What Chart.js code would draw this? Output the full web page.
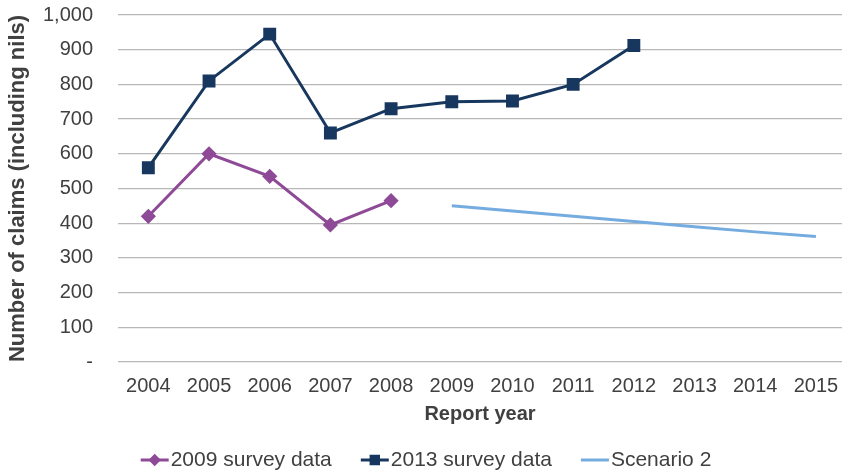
<!DOCTYPE html>
<html>
<head>
<meta charset="utf-8">
<script src="https://cdn.jsdelivr.net/npm/chart.js@4"></script>
<style>
  html, body { margin: 0; padding: 0; background: #fff; }
  #wrap { width: 842px; height: 473px; }
</style>
</head>
<body>
<div id="wrap"><canvas id="claimsChart"></canvas></div>
<script>
// Report years and claim counts
const years = [2004, 2005, 2006, 2007, 2008, 2009, 2010, 2011, 2012, 2013, 2014, 2015];
const survey2009 = [420, 600, 535, 395, 465, null, null, null, null, null, null, null];
const survey2013 = [560, 810, 945, 660, 730, 750, 752, 800, 912, null, null, null];
const scenario2 = [null, null, null, null, null, 450, 435, 420, 405, 390, 375, 362];
const yTicks = [0, 100, 200, 300, 400, 500, 600, 700, 800, 900, 1000];

const textColor = '#404040';
const fontFamily = '"Liberation Sans", Arial, sans-serif';

function toPoints(values) {
    return years.map((yr, i) => ({ x: yr, y: values[i] }));
}

// Legend drawn by hand so the line + marker swatch sits tight against the text
const bottomLegend = {
    id: 'bottomLegend',
    afterDraw(chart) {
        const ctx = chart.ctx;
        const y = 460;
        ctx.save();
        ctx.font = '21px ' + fontFamily;
        ctx.textBaseline = 'middle';
        const swatch = 28, gapText = 2, gapItem = 29;
        const items = chart.data.datasets;
        let total = 0;
        items.forEach((ds, i) => {
            total += swatch + gapText + ctx.measureText(ds.label).width;
            if (i < items.length - 1) total += gapItem;
        });
        let x = 426 - total / 2;
        items.forEach(ds => {
            ctx.strokeStyle = ds.borderColor;
            ctx.lineWidth = 3;
            ctx.beginPath();
            ctx.moveTo(x, y);
            ctx.lineTo(x + swatch, y);
            ctx.stroke();
            if (ds.pointStyle && ds.pointRadius > 0) {
                ctx.fillStyle = ds.pointBackgroundColor;
                ctx.strokeStyle = ds.pointBackgroundColor;
                Chart.helpers.drawPoint(ctx, {
                    pointStyle: ds.pointStyle,
                    radius: ds.pointRadius * 0.75,
                    borderWidth: 1
                }, x + swatch / 2, y);
            }
            x += swatch + gapText;
            ctx.fillStyle = textColor;
            ctx.fillText(ds.label, x, y);
            x += ctx.measureText(ds.label).width + gapItem;
        });
        ctx.restore();
    }
};

const ctx = document.getElementById('claimsChart').getContext('2d');
const claimsChart = new Chart(ctx, {
    type: 'line',
    data: {
        datasets: [{
            label: '2009 survey data',
            data: toPoints(survey2009),
            borderColor: '#8E4A97',
            backgroundColor: '#8E4A97',
            pointBackgroundColor: '#8E4A97',
            pointBorderColor: '#8E4A97',
            pointStyle: 'rectRot',
            pointRadius: 5.5,
            borderWidth: 3,
            spanGaps: false
        }, {
            label: '2013 survey data',
            data: toPoints(survey2013),
            borderColor: '#17375E',
            backgroundColor: '#17375E',
            pointBackgroundColor: '#17375E',
            pointBorderColor: '#17375E',
            pointStyle: 'rect',
            pointRadius: 7,
            borderWidth: 3,
            spanGaps: false
        }, {
            label: 'Scenario 2',
            data: toPoints(scenario2),
            borderColor: '#74ACDF',
            backgroundColor: '#74ACDF',
            pointRadius: 0,
            borderWidth: 3,
            spanGaps: false
        }]
    },
    options: {
        responsive: true,
        maintainAspectRatio: false,
        animation: false,
        layout: { autoPadding: false, padding: { top: 15, right: 0, bottom: 47, left: 0 } },
        plugins: {
            legend: { display: false },
            tooltip: { enabled: false }
        },
        scales: {
            x: {
                type: 'linear',
                min: 2003.5,
                max: 2015.43,
                afterBuildTicks: axis => { axis.ticks = years.map(v => ({ value: v })); },
                afterFit: scale => { scale.paddingLeft = 0; scale.paddingRight = 0; },
                grid: { display: false },
                border: { display: false },
                ticks: {
                    color: textColor,
                    font: { family: fontFamily, size: 20 },
                    padding: 4,
                    maxRotation: 0,
                    autoSkip: false,
                    callback: v => String(v)
                },
                title: {
                    display: true,
                    text: 'Report year',
                    color: textColor,
                    font: { family: fontFamily, size: 20, weight: 'bold' },
                    padding: { top: 0, bottom: 0 }
                }
            },
            y: {
                min: 0,
                max: 1000,
                afterBuildTicks: axis => { axis.ticks = yTicks.map(v => ({ value: v })); },
                afterFit: scale => {
                    scale.width = 118;
                    scale.paddingTop = 0;
                    scale.paddingBottom = 0;
                },
                grid: {
                    color: '#b8b8b8',
                    lineWidth: 1.3,
                    drawTicks: false
                },
                border: { display: false },
                ticks: {
                    color: textColor,
                    font: { family: fontFamily, size: 20 },
                    padding: 25,
                    callback: v => v === 0 ? '-' : v.toLocaleString('en-US')
                },
                title: {
                    display: true,
                    text: 'Number of claims (including nils)',
                    color: textColor,
                    font: { family: fontFamily, size: 22, weight: 'bold' },
                    padding: { top: 5, bottom: 0 }
                }
            }
        }
    },
    plugins: [bottomLegend]
});
</script>
</body>
</html>
